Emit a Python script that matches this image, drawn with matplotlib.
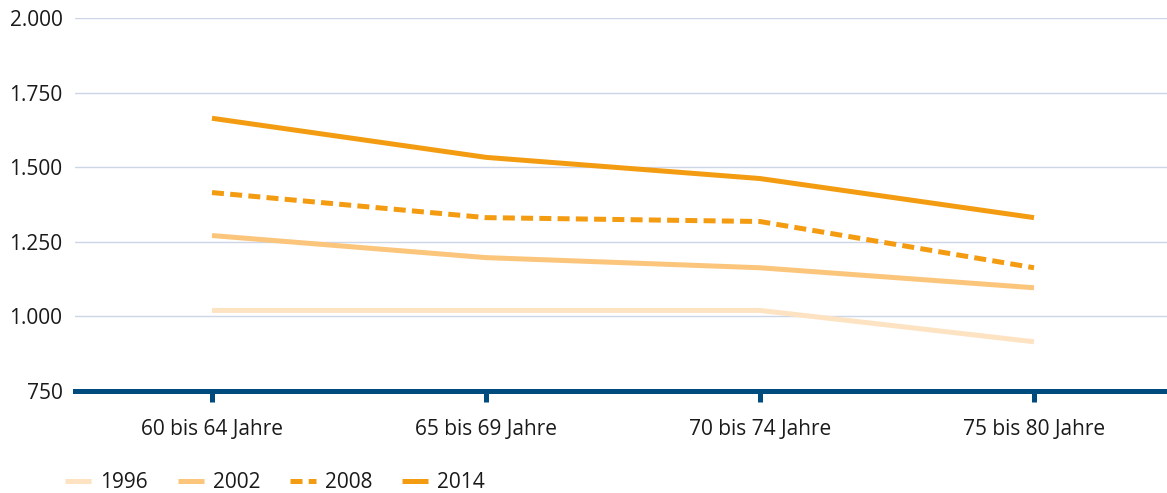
import matplotlib
matplotlib.use("Agg")
import matplotlib.pyplot as plt
from matplotlib.ticker import FuncFormatter

plt.rcParams['font.family'] = ['Open Sans', 'DejaVu Sans']

# Data
categories = ["60 bis 64 Jahre", "65 bis 69 Jahre", "70 bis 74 Jahre", "75 bis 80 Jahre"]
years = ["1996", "2002", "2008", "2014"]
v1996 = [1020, 1020, 1020, 915]
v2002 = [1271, 1197, 1163, 1096]
v2008 = [1415, 1331, 1318, 1163]
v2014 = [1664, 1533, 1462, 1331]
y_ticks = [750, 1000, 1250, 1500, 1750, 2000]

series = [v1996, v2002, v2008, v2014]
colors = ["#fde3c2", "#fbc57c", "#f39c12", "#f39c12"]
styles = ["-", "-", (0, (2.4, 1.25)), "-"]

fig = plt.figure(figsize=(11.67, 4.93), dpi=100)
ax = fig.add_axes([75 / 1167, 1 - 391 / 493, 1096 / 1167, 373 / 493])

x = list(range(len(categories)))
for vals, col, ls, lab in zip(series, colors, styles, years):
    ax.plot(x, vals, color=col, linestyle=ls, linewidth=3.6, label=lab,
            solid_capstyle="butt", dash_capstyle="butt")

ax.set_xlim(-0.5, 3.5)
ax.set_ylim(750, 2000)
ax.set_yticks(y_ticks)
ax.yaxis.set_major_formatter(FuncFormatter(lambda v, p: f"{int(v):,}".replace(",", ".")))
ax.set_xticks(x)
ax.set_xticklabels(categories)

ax.grid(axis="y", color="#ccd6e6", linewidth=1.0)
ax.set_axisbelow(True)
for s in ["top", "right", "left"]:
    ax.spines[s].set_visible(False)
ax.spines["bottom"].set_color("#004b7d")
ax.spines["bottom"].set_linewidth(3.6)
ax.spines["bottom"].set_zorder(5)

ax.tick_params(axis="y", length=0, pad=9, labelsize=15, labelcolor="#1a1a1a")
ax.tick_params(axis="x", length=8, width=3.6, color="#004b7d", pad=12,
               labelsize=15, labelcolor="#1a1a1a")

fig.legend(loc="center left", bbox_to_anchor=(57 / 1167, 1 - 483 / 493), ncol=4,
           frameon=False, borderaxespad=0, fontsize=15, handlelength=1.25,
           handletextpad=0.43, columnspacing=1.42, labelcolor="#1a1a1a")

fig.savefig("out.png", dpi=100)
